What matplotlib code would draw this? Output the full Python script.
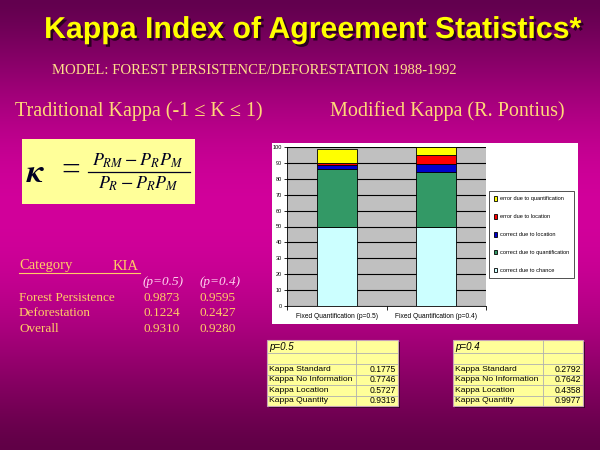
import numpy as np
import matplotlib.pyplot as plt
from matplotlib.patches import Rectangle
import matplotlib.patheffects as pe

# stacked bar data (percent of pixels)
segments = ['correct due to chance', 'correct due to quantification',
            'correct due to location', 'error due to location',
            'error due to quantification']
seg_colors = ['#CCFFFF', '#339966', '#0000CC', '#FF0000', '#FFFF00']
bar_labels = ['Fixed Quantification (p=0.5)', 'Fixed Quantification (p=0.4)']
seg_p05 = [50.0, 35.9, 2.5, 1.7, 8.4]
seg_p04 = [50.0, 34.0, 5.1, 6.1, 4.8]

# traditional kappa table
kia_categories = ['Forest Persistence', 'Deforestation', 'Overall']
kia_p05 = ['0.9873', '0.1224', '0.9310']
kia_p04 = ['0.9595', '0.2427', '0.9280']

# modified kappa tables
kappa_names = ['Kappa Standard', 'Kappa No Information', 'Kappa Location', 'Kappa Quantity']
kappa_p05 = ['0.1775', '0.7746', '0.5727', '0.9319']
kappa_p04 = ['0.2792', '0.7642', '0.4358', '0.9977']

SANS = 'Liberation Sans'
SERIF = 'Liberation Serif'
plt.rcParams['mathtext.fontset'] = 'stix'

fig = plt.figure(figsize=(6, 4.5), dpi=100)
bg = fig.add_axes([0, 0, 1, 1])
bg.set_xlim(0, 600)
bg.set_ylim(450, 0)
bg.axis('off')

# background gradient, dark purple -> magenta -> dark purple
yy = np.linspace(0, 1, 450)
top = np.array([98, 0, 78]) / 255
mid = np.array([210, 0, 155]) / 255
bot = np.array([96, 0, 70]) / 255
peak = 0.47
w = np.where(yy < peak, yy / peak, (1 - yy) / (1 - peak))
w = np.sin(w * np.pi / 2) ** 1.3
col = np.where((yy < peak)[:, None], top + (mid - top) * w[:, None], bot + (mid - bot) * w[:, None])
img = np.repeat(col[:, None, :], 600, axis=1)
bg.imshow(img, extent=(0, 600, 450, 0), aspect='auto', zorder=0)

# title
bg.text(312, 30, 'Kappa Index of Agreement Statistics*', family=SANS, weight='bold',
        fontsize=21.8, color='#FFFF00', ha='center', va='center',
        path_effects=[pe.SimplePatchShadow(offset=(1.8, -1.8), shadow_rgbFace='#2a0020', alpha=1),
                      pe.Normal()])
bg.text(254, 70, 'MODEL: FOREST PERSISTENCE/DEFORESTATION 1988-1992', family=SERIF,
        fontsize=10.6, color='#FFE08A', ha='center', va='center')
bg.text(15, 111, 'Traditional Kappa (-1 \u2264 K \u2264 1)', family=SERIF,
        fontsize=14.5, color='#FFD878', ha='left', va='center')
bg.text(330, 111, 'Modified Kappa (R. Pontius)', family=SERIF,
        fontsize=14.5, color='#FFD878', ha='left', va='center')

# formula box
bg.add_patch(Rectangle((22, 139), 173, 65, facecolor='#FFFF99', edgecolor='none', zorder=2))
bg.text(36, 173, r'$\boldsymbol{\kappa}$', fontsize=24, color='#000022', ha='center', va='center', zorder=3)
bg.text(71, 172, '=', family=SERIF, fontsize=24, color='#000022', ha='center', va='center', zorder=3)
bg.text(138, 161, r'$P_{RM}-P_RP_M$', fontsize=13, color='#000022', ha='center', va='center', zorder=3)
bg.plot([88, 190], [172, 172], color='#000022', lw=0.9, zorder=3)
bg.text(138, 184, r'$P_R-P_RP_M$', fontsize=13, color='#000022', ha='center', va='center', zorder=3)

# KIA table
kc = '#FFCC66'
bg.text(19, 266, 'Category', family=SERIF, fontsize=10.5, color=kc, va='center')
bg.text(113, 266, 'KIA', family=SERIF, fontsize=10.5, color=kc, va='center')
bg.plot([19, 140], [272.5, 272.5], color=kc, lw=0.8)
bg.text(143, 282, '(p=0.5)', family=SERIF, style='italic', fontsize=9.5, color='#FFD6F0', va='center')
bg.text(200, 282, '(p=0.4)', family=SERIF, style='italic', fontsize=9.5, color='#FFD6F0', va='center')
for i, cat in enumerate(kia_categories):
    y = 298 + i * 15.5
    bg.text(19, y, cat, family=SERIF, fontsize=9.5, color=kc, va='center')
    bg.text(143, y, kia_p05[i], family=SERIF, fontsize=9.5, color=kc, va='center')
    bg.text(199, y, kia_p04[i], family=SERIF, fontsize=9.5, color=kc, va='center')

# white chart panel
bg.add_patch(Rectangle((272, 143), 306, 181, facecolor='white', edgecolor='none', zorder=1))

# modified kappa tables
def draw_table(x0, x1, xsplit, head, values):
    ys = [340, 353, 364, 374.5, 385, 395.5, 406]
    bg.add_patch(Rectangle((x0 + 2, ys[0] + 2), x1 - x0, ys[-1] - ys[0],
                           facecolor='#3a0028', edgecolor='none', zorder=1))
    bg.add_patch(Rectangle((x0, ys[0]), x1 - x0, ys[-1] - ys[0],
                           facecolor='#FFFF99', edgecolor='#C8A0B8', lw=0.8, zorder=2))
    for y in ys[1:-1]:
        bg.plot([x0, x1], [y, y], color='#B0B0B0', lw=0.6, zorder=3)
    bg.plot([xsplit, xsplit], [ys[0], ys[-1]], color='#B0B0B0', lw=0.6, zorder=3)
    bg.text(x0 + 2, (ys[0] + ys[1]) / 2, head, family=SANS, style='italic', fontsize=7,
            color='black', va='center', zorder=4)
    for i, name in enumerate(kappa_names):
        yc = (ys[i + 2] + ys[i + 3]) / 2
        bg.text(x0 + 2, yc, name, family=SANS, fontsize=6.1, color='black', va='center', zorder=4)
        bg.text(x1 - 2, yc, values[i], family=SANS, fontsize=6.2, color='black',
                va='center', ha='right', zorder=4)

draw_table(267, 398, 356, 'p=0.5', kappa_p05)
draw_table(453, 583, 543, 'p=0.4', kappa_p04)

# stacked bar chart
ax = fig.add_axes([287 / 600, (450 - 306) / 450, 199 / 600, 159 / 450])
ax.set_facecolor('#C0C0C0')
x = np.arange(len(bar_labels))
data = np.array([seg_p05, seg_p04])
bottom = np.zeros(len(bar_labels))
for j, name in enumerate(segments):
    ax.bar(x, data[:, j], 0.4, bottom=bottom, color=seg_colors[j], edgecolor='black',
           linewidth=0.6, label=name, zorder=3)
    bottom += data[:, j]
ax.set_xlim(-0.5, 1.5)
ax.set_ylim(0, 100)
ax.set_yticks(np.arange(0, 101, 10))
ax.yaxis.grid(True, color='black', linewidth=0.8, zorder=1)
ax.set_axisbelow(True)
ax.set_xticks(x)
ax.set_xticklabels(bar_labels, family=SANS, fontsize=4.8)
ax.set_xticks([-0.5, 0.5, 1.5], minor=True)
ax.tick_params(axis='x', which='major', length=0, pad=5)
ax.tick_params(axis='x', which='minor', length=3, width=0.6)
ax.tick_params(axis='y', length=2, width=0.6, labelsize=4, pad=1.5)
for lab in ax.get_yticklabels():
    lab.set_family(SANS)
for s in ['top', 'right']:
    ax.spines[s].set_visible(False)
ax.spines['left'].set_linewidth(0.6)
ax.spines['bottom'].set_linewidth(0.6)

handles, labels = ax.get_legend_handles_labels()
leg = ax.legend(handles[::-1], labels[::-1], loc='upper left',
                bbox_to_anchor=(489 / 600, 1 - 191 / 450), bbox_transform=fig.transFigure,
                prop={'family': SANS, 'size': 4.1}, labelspacing=2.2, handlelength=0.55,
                handleheight=0.9, handletextpad=0.4, borderpad=0.9, fancybox=False,
                frameon=True, edgecolor='black', borderaxespad=0)
leg.get_frame().set_linewidth(0.6)

fig.savefig('out.png', dpi=100)
